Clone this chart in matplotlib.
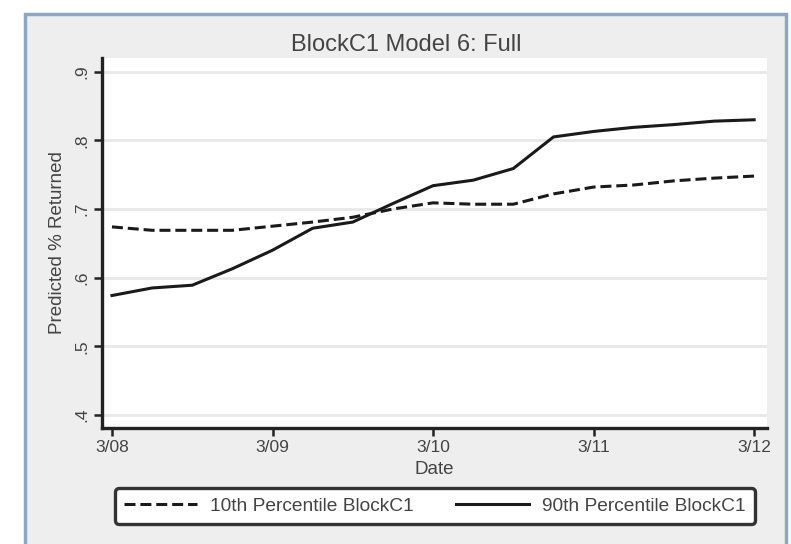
import numpy as np
import matplotlib.pyplot as plt
from matplotlib.patches import Rectangle

# predicted share returned, sampled every quarter day from 3/08 to 3/12
days = np.arange(0, 4.01, 0.25)
p10 = [0.674, 0.669, 0.669, 0.669, 0.675, 0.681, 0.688, 0.700, 0.709,
       0.707, 0.707, 0.722, 0.732, 0.735, 0.741, 0.745, 0.748]
p90 = [0.574, 0.585, 0.589, 0.613, 0.640, 0.672, 0.681, 0.708, 0.734,
       0.742, 0.759, 0.805, 0.813, 0.819, 0.823, 0.828, 0.830]

xticks = [0, 1, 2, 3, 4]
xlabels = ['3/08', '3/09', '3/10', '3/11', '3/12']
yticks = [0.4, 0.5, 0.6, 0.7, 0.8, 0.9]
ylabels = ['.4', '.5', '.6', '.7', '.8', '.9']

plt.rcParams['font.family'] = ['Liberation Sans', 'DejaVu Sans']
txt = '#444444'

W, H = 791, 544
fig = plt.figure(figsize=(W/100, H/100), dpi=100)
fig.patch.set_facecolor('white')

# grey panel with blue frame behind everything
fig.patches.append(Rectangle((25/W, -0.05), 761/W, 1.05 - 14/H,
                             transform=fig.transFigure, facecolor='#eeeeee',
                             edgecolor='#8aa6c8', linewidth=2.5, zorder=-5))

ax = fig.add_axes([102/W, 1-428/H, (767-102)/W, (428-58)/H])
ax.set_facecolor('white')

ax.plot(days, p10, color='#1a1a1a', lw=2.2, dashes=(3.6, 1.6), label='10th Percentile BlockC1')
ax.plot(days, p90, color='#1a1a1a', lw=2.2, label='90th Percentile BlockC1')

ax.set_xlim(-0.062, 4.08)
ax.set_ylim(0.381, 0.920)
ax.set_xticks(xticks)
ax.set_xticklabels(xlabels)
ax.set_yticks(yticks)
ax.set_yticklabels(ylabels, rotation=90, va='center')
ax.tick_params(length=6, width=1.8, color='#222222', labelsize=12.5, pad=3, labelcolor=txt)
ax.grid(axis='y', color='#e8e8e8', lw=2)
ax.set_axisbelow(True)
for s in ['top', 'right']:
    ax.spines[s].set_visible(False)
for s in ['left', 'bottom']:
    ax.spines[s].set_linewidth(2.4)
    ax.spines[s].set_color('#222222')

fig.text(406/W, 1-45/H, 'BlockC1 Model 6: Full', fontsize=17, color=txt,
         ha='center', va='center')
ax.set_ylabel('Predicted % Returned', fontsize=13.5, color=txt, va='center')
ax.yaxis.set_label_coords((57-102)/665, 0.5)
ax.set_xlabel('Date', fontsize=13.5, color=txt, va='center')
ax.xaxis.set_label_coords(0.5, (428-469)/370)

leg = fig.legend(loc='center', ncol=2, bbox_to_anchor=(435/W, 1-506/H),
                 fontsize=13.8, frameon=True, fancybox=True, handlelength=3.8,
                 handletextpad=0.68, columnspacing=2.2, borderpad=0.5)
leg.get_frame().set_edgecolor('#333333')
leg.get_frame().set_linewidth(2.4)
leg.get_frame().set_facecolor('white')
leg.get_frame().set_alpha(1)
for t in leg.get_texts():
    t.set_color(txt)

fig.savefig('out.png', dpi=100)
